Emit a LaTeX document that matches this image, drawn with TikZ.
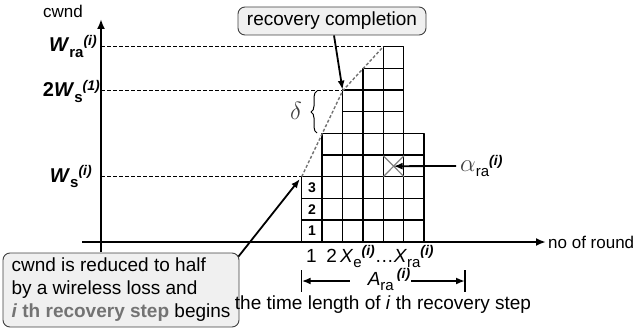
\documentclass[tikz,border=0pt]{standalone}
\usepackage{fontspec}
\setmainfont{Liberation Sans}
\usetikzlibrary{arrows.meta,calc,positioning,decorations.pathreplacing}

\newcommand{\subtxt}[1]{\raisebox{-0.28em}{\fontsize{15}{15}\selectfont #1}}
\newcommand{\suptxt}[1]{\raisebox{0.34em}{\fontsize{14}{14}\selectfont\bfseries\itshape #1}}
\newcommand{\supi}{\suptxt{(i)}}

\begin{document}
\begin{tikzpicture}[x=1pt, y=-1pt, >=Latex, line join=round]

% ------------------------------------------------
% Styles
% ------------------------------------------------
\tikzset{
    axis/.style={-{Latex[length=10pt,width=8pt]}, line width=2.4pt},
    cell/.style={line width=1.3pt},
    guide/.style={line width=1.3pt, dash pattern=on 4pt off 2pt},
    trend/.style={line width=1.4pt, black!55, dash pattern=on 3pt off 2pt},
    callout/.style={draw=black!75, fill=black!6, rounded corners=7pt, line width=0.9pt},
    pointer/.style={-{Latex[length=9pt,width=7pt]}, line width=1.8pt},
    lbl/.style={font=\fontsize{19}{23}\selectfont, inner sep=0pt},
    small/.style={font=\fontsize{17}{20}\selectfont, inner sep=0pt},
    wlbl/.style={font=\fontsize{20}{23}\selectfont\bfseries, inner sep=0pt},
    num/.style={font=\fontsize{14}{14}\selectfont\bfseries, inner sep=0pt},
    greek/.style={font=\fontsize{26}{26}\selectfont, text=black!75, inner sep=0pt},
}

\useasboundingbox (0,0) rectangle (637,334);

% ------------------------------------------------
% Main coordinates
% ------------------------------------------------
\coordinate (O)  at (101,242);
\coordinate (P0) at (301.7,176.7);   % W_s
\coordinate (P1) at (342.7,90.7);    % 2W_s
\coordinate (P2) at (383.3,46.7);    % W_ra
\coordinate (Xc) at (393.6,166.2);   % lost packet

% ------------------------------------------------
% Axes
% ------------------------------------------------
\coordinate (xs) at (82,242);
\coordinate (xe) at (546,242);
\coordinate (ys) at (101,252);
\coordinate (ye) at (101,19);
\draw[axis] (xs) -- (xe);
\draw[axis] (ys) -- (ye);

\node[small, anchor=west] (round) at (548,242) {no of round};
\node[small] (cwnd) at (63,11) {cwnd};

% ------------------------------------------------
% Window grid
% ------------------------------------------------
\foreach \c/\h in {0/3,1/5,2/7,3/8,4/9,5/5}{
    \foreach \r in {1,...,\h}{
        \draw[cell] ({301.7+20.4*\c},{241.7-21.67*(\r-1)}) rectangle ++(20.4,-21.67);
    }
}
\foreach \r in {1,2,3}{
    \node[num] (n\r) at (311.9,{241.7-21.67*(\r-0.5)}) {\r};
}

% lost packet
\draw[black!50, line width=1.2pt] (383.3,155.7) -- (404,176.7) (383.3,176.7) -- (404,155.7);

% ------------------------------------------------
% Guides and trend
% ------------------------------------------------
\draw[guide] (O |- P2) -- (P2);
\draw[guide] (O |- P1) -- (P1);
\draw[guide] (O |- P0) -- (P0);
\draw[trend] (P0) -- (P1) -- (P2);

\node[wlbl, anchor=base east] (wra) at (97,52) {\textit{W}\subtxt{ra}\supi};
\node[wlbl, anchor=base east] (w2s) at (100,97) {2\textit{W}\subtxt{s}\suptxt{(1)}};
\node[wlbl, anchor=base east] (ws) at (92,182) {\textit{W}\subtxt{s}\supi};

% delta
\draw[line width=1pt, decorate, decoration={brace, amplitude=6pt}] (317,133) -- (317,91);
\node[greek] (delta) at (296,111) {$\delta$};

% ------------------------------------------------
% Callouts
% ------------------------------------------------
\node[callout, lbl, minimum width=188pt, minimum height=28pt] (done) at (332,21) {recovery completion};
\draw[pointer, shorten >=1pt] ([xshift=2pt]done.south) -- (P1);

\node[callout, lbl, minimum width=236pt, minimum height=74pt, align=left] (loss) at (121,290)
    {cwnd is reduced to half\\by a wireless loss and\\{\color{black!55}\textbf{\textit{i} th recovery step}} begins};
\draw[pointer, shorten >=3pt] ([shift={(-1,4)}]loss.north east) -- (P0);

\node[lbl, anchor=west] (alpha) at (460,166) {{\fontsize{26}{26}\selectfont\color{black!75}$\alpha$}\subtxt{ra}\supi};
\draw[pointer] ([xshift=-4pt]alpha.west) -- (Xc);

% ------------------------------------------------
% Round numbers and recovery length
% ------------------------------------------------
\node[lbl, anchor=base west] (rounds) at (306,262) {1\enspace2\,\textit{X}\subtxt{e}\supi\ldots\textit{X}\subtxt{ra}\supi};

\coordinate (Al) at (301.7,281);
\coordinate (Ar) at (465,281);
\draw[line width=1.3pt] (Al) ++(0,-11) -- ++(0,22);
\draw[line width=1.3pt] (Ar) ++(0,-11) -- ++(0,22);
\node[lbl, anchor=base] (Ara) at (389,285) {\textit{A}\subtxt{ra}\,\supi};
\draw[pointer] ([xshift=-18pt]Ara.west |- Al) -- (Al);
\draw[pointer] ([xshift=1pt]Ara.east |- Ar) -- (Ar);

\node[lbl, anchor=base] (steplen) at (383,309) {the time length of \textit{i} th recovery step};

\end{tikzpicture}
\end{document}
